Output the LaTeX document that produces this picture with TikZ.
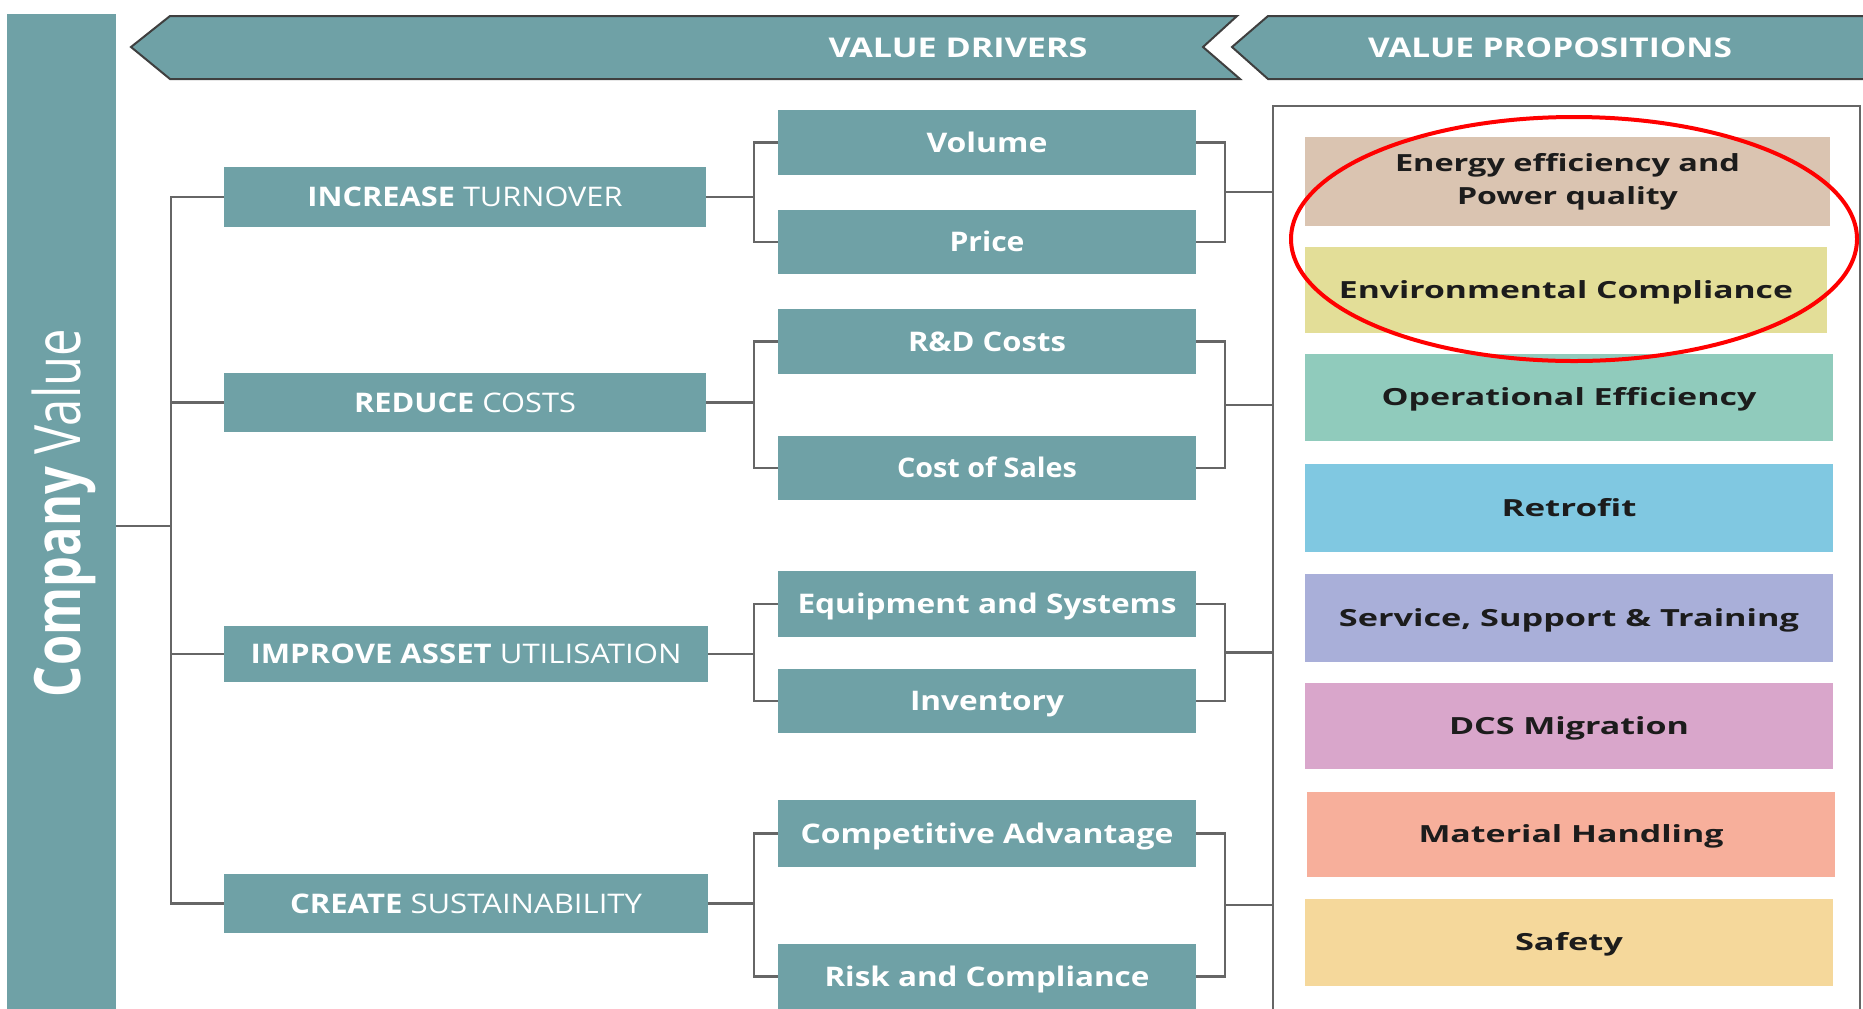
\documentclass[tikz,border=0pt]{standalone}
\usepackage{fontspec}
\setmainfont{Open Sans}
\usepackage{graphicx}
\usetikzlibrary{calc}
\definecolor{tealc}{HTML}{6FA1A6}
\definecolor{linec}{HTML}{666666}
\definecolor{bordc}{HTML}{3F3F3F}
\definecolor{txtc}{HTML}{1C1C1C}
\definecolor{pEnergy}{HTML}{DAC4B1}
\definecolor{pEnv}{HTML}{E3DE98}
\definecolor{pOper}{HTML}{90CBBC}
\definecolor{pRetro}{HTML}{80C8E1}
\definecolor{pServ}{HTML}{A9AFD9}
\definecolor{pDCS}{HTML}{D9A6CB}
\definecolor{pMat}{HTML}{F7AF9B}
\definecolor{pSafe}{HTML}{F5D89B}
\newlength\ux
\setlength\ux{0.5pt}
\newcommand\fw[2]{\resizebox{#1\ux}{\height}{#2}}
\newcommand\bx[7]{\node[#6, minimum width={(#4-#2)*0.5pt}, minimum height={(#5-#3)*0.5pt}] (#1) at ({(#2+#4)/2},{(#3+#5)/2}) {#7};}
\begin{document}
\begin{tikzpicture}[x=0.5pt,y=-0.5pt,
  tbox/.style={fill=tealc, draw=none, inner sep=0pt, outer sep=0pt, text=white,
     font=\bfseries\fontsize{13.5}{15}\selectfont, text height=9.64pt, text depth=0pt},
  pbox/.style={fill=#1, draw=none, inner sep=0pt, outer sep=0pt, text=txtc,
     font=\bfseries\fontsize{11.8}{16.5}\selectfont, text height=8.43pt, text depth=0pt},
  pbox2/.style={fill=#1, draw=none, inner sep=0pt, outer sep=0pt, text=txtc,
     font=\bfseries\fontsize{11.8}{16.5}\selectfont, align=center},
  frm/.style={draw=linec, line width=0.8pt, fill=none, inner sep=0pt, outer sep=0pt},
  ln/.style={draw=linec, line width=1.1pt},
  bnr/.style={fill=tealc, draw=bordc, line width=1pt, line join=miter},
  btxt/.style={text=white, inner sep=0pt, font=\bfseries\fontsize{13.6}{16}\selectfont, text height=9.71pt, text depth=0pt}]
\useasboundingbox (0,0) rectangle (1863,1008);
\clip (0,0) rectangle (1863,1008);

% left bar
\bx{cv}{7}{14}{116}{1040}{tbox}{}
\node[rotate=90, anchor=base, text=white, inner sep=0pt, font=\fontsize{32}{36}\selectfont] (cvt) at (80,513) {\fw{368}{\textbf{Company} Value}};

% banners
\draw[bnr] (131,47) -- (170,16) -- (1237,16) -- (1203,47) -- (1240,79) -- (170,79) -- cycle;
\draw[bnr] (1268,16) -- (1880,16) -- (1880,79) -- (1268,79) -- (1232,47) -- cycle;
\node[btxt] (vd) at (958,48) {\fw{259}{VALUE DRIVERS}};
\node[btxt] (vp) at (1550,48) {\fw{364}{VALUE PROPOSITIONS}};

% column 1
\bx{a1}{224}{167}{706}{227}{tbox}{\fw{315}{INCREASE \mdseries TURNOVER}}
\bx{a2}{224}{373}{706}{432}{tbox}{\fw{222}{REDUCE \mdseries COSTS}}
\bx{a3}{224}{626}{708}{682}{tbox}{\fw{431}{IMPROVE ASSET \mdseries UTILISATION}}
\bx{a4}{224}{874}{708}{933}{tbox}{\fw{352}{CREATE \mdseries SUSTAINABILITY}}

% column 2
\bx{b1}{778}{110}{1196}{175}{tbox}{\fw{121}{Volume}}
\bx{b2}{778}{210}{1196}{274}{tbox}{\fw{75}{Price}}
\bx{b3}{778}{309}{1196}{374}{tbox}{\fw{158}{R\&D Costs}}
\bx{b4}{778}{436}{1196}{500}{tbox}{\fw{180}{Cost of Sales}}
\bx{b5}{778}{571}{1196}{637}{tbox}{\fw{379}{Equipment and Systems}}
\bx{b6}{778}{669}{1196}{733}{tbox}{\fw{154}{Inventory}}
\bx{b7}{778}{800}{1196}{867}{tbox}{\fw{373}{Competitive Advantage}}
\bx{b8}{778}{944}{1196}{1009}{tbox}{\fw{325}{Risk and Compliance}}

% propositions frame
\bx{fr}{1273}{106}{1860}{1060}{frm}{}

% propositions
\bx{p1}{1305}{137}{1830}{226}{pbox2=pEnergy}{\fw{345}{Energy efficiency and}\\\fw{221}{Power quality}}
\bx{p2}{1305}{247}{1827}{333}{pbox=pEnv}{\fw{454}{Environmental Compliance}}
\bx{p3}{1305}{354}{1833}{441}{pbox=pOper}{\fw{375}{Operational Efficiency}}
\bx{p4}{1305}{464}{1833}{552}{pbox=pRetro}{\fw{135}{Retrofit}}
\bx{p5}{1305}{574}{1833}{662}{pbox=pServ}{\fw{460}{Service, Support \& Training}}
\bx{p6}{1305}{683}{1833}{769}{pbox=pDCS}{\fw{240}{DCS Migration}}
\bx{p7}{1307}{792}{1835}{877}{pbox=pMat}{\fw{305}{Material Handling}}
\bx{p8}{1305}{899}{1833}{986}{pbox=pSafe}{\fw{108}{Safety}}

% helper coordinates
\coordinate (tx) at (171,0);
\coordinate (lx) at (754,0);
\coordinate (rx) at (1225,0);
\coordinate (tj) at (171,526);

% trunk
\draw[ln] (tj -| cv.east) -- (tj);
\draw[ln] (a1.west) -- (a1.west -| tx) -- (a4.west -| tx) -- (a4.west);
\draw[ln] (a2.west -| tx) -- (a2.west);
\draw[ln] (a3.west -| tx) -- (a3.west);

% column 1 to column 2
\draw[ln] (a1.east) -- (a1.east -| lx);
\draw[ln] (b1.west) -- (b1.west -| lx) -- (b2.west -| lx) -- (b2.west);
\draw[ln] (a2.east) -- (a2.east -| lx);
\draw[ln] (b3.west) -- (b3.west -| lx) -- (b4.west -| lx) -- (b4.west);
\draw[ln] (a3.east) -- (a3.east -| lx);
\draw[ln] (b5.west) -- (b5.west -| lx) -- (b6.west -| lx) -- (b6.west);
\draw[ln] (a4.east) -- (a4.east -| lx);
\draw[ln] (b7.west) -- (b7.west -| lx) -- (b8.west -| lx) -- (b8.west);

% column 2 to propositions
\draw[ln] (b1.east) -- (b1.east -| rx) -- (b2.east -| rx) -- (b2.east);
\draw[ln] (b3.east) -- (b3.east -| rx) -- (b4.east -| rx) -- (b4.east);
\draw[ln] (b5.east) -- (b5.east -| rx) -- (b6.east -| rx) -- (b6.east);
\draw[ln] (b7.east) -- (b7.east -| rx) -- (b8.east -| rx) -- (b8.east);
\path ($(b1.east)!.5!(b2.east)$) coordinate (m1);
\path ($(b3.east)!.5!(b4.east)$) coordinate (m2);
\path ($(b5.east)!.5!(b6.east)$) coordinate (m3);
\path ($(b7.east)!.5!(b8.east)$) coordinate (m4);
\draw[ln] (m1 -| rx) -- (m1 -| fr.west);
\draw[ln] (m2 -| rx) -- (m2 -| fr.west);
\draw[ln] (m3 -| rx) -- (m3 -| fr.west);
\draw[ln] (m4 -| rx) -- (m4 -| fr.west);

% red highlight ellipse
\draw[red, line width=2pt] (1574,239) ellipse [x radius=141.5pt, y radius=61pt];
\end{tikzpicture}
\end{document}
